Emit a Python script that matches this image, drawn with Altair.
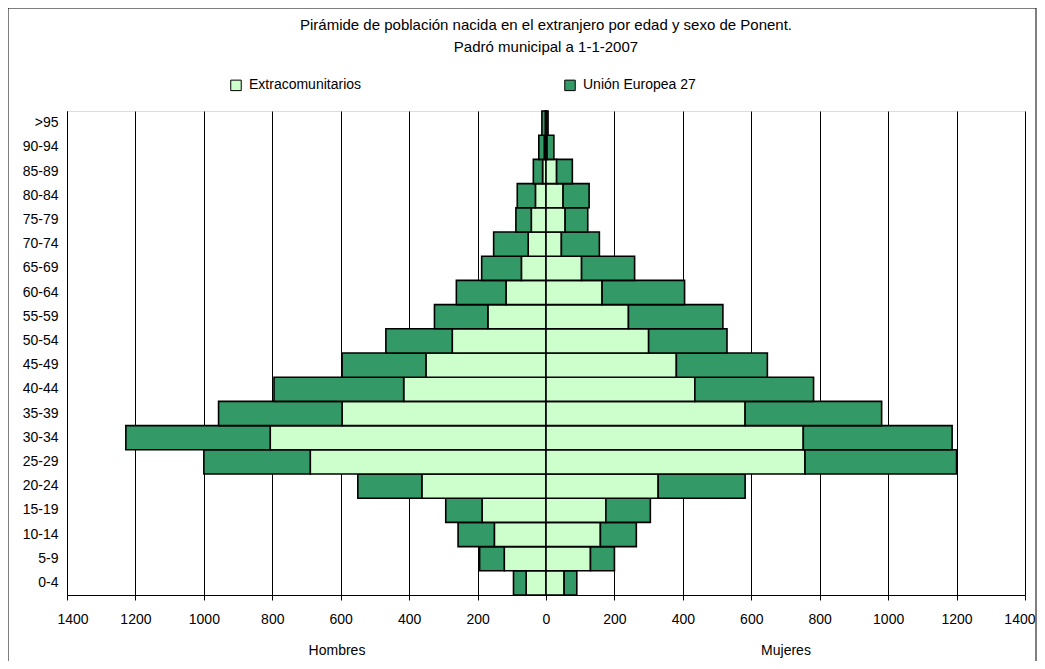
import altair as alt
import pandas as pd

ages = ["0-4", "5-9", "10-14", "15-19", "20-24", "25-29", "30-34", "35-39", "40-44",
        "45-49", "50-54", "55-59", "60-64", "65-69", "70-74", "75-79", "80-84",
        "85-89", "90-94", ">95"]
series = ["Extracomunitarios", "Unión Europea 27"]

hombres_extra = [58, 122, 151, 187, 363, 689, 806, 596, 416, 351, 274, 170, 117, 72, 52, 43, 31, 10, 5, 2]
hombres_ue = [37, 72, 106, 106, 187, 311, 422, 361, 379, 245, 194, 156, 145, 116, 101, 45, 53, 27, 16, 10]
mujeres_extra = [53, 130, 159, 175, 328, 757, 752, 582, 435, 381, 300, 241, 164, 104, 45, 56, 50, 31, 3, 1]
mujeres_ue = [37, 70, 105, 130, 254, 443, 435, 399, 347, 266, 229, 276, 241, 155, 111, 66, 76, 46, 20, 5]

x_ticks = list(range(-1400, 1401, 200))
title_lines = ["Pirámide de población nacida en el extranjero por edad y sexo de Ponent.",
               "Padró municipal a 1-1-2007"]
axis_titles = ["Hombres", "Mujeres"]

rows = []
for i, age in enumerate(ages):
    he, hu = hombres_extra[i], hombres_ue[i]
    me, mu = mujeres_extra[i], mujeres_ue[i]
    rows.append({"edad": age, "serie": series[0], "x0": 0, "x1": -he})
    rows.append({"edad": age, "serie": series[1], "x0": -he, "x1": -(he + hu)})
    rows.append({"edad": age, "serie": series[0], "x0": 0, "x1": me})
    rows.append({"edad": age, "serie": series[1], "x0": me, "x1": me + mu})
df = pd.DataFrame(rows)

W, H = 958, 484
FONT = "Liberation Sans"

bars = alt.Chart(df).mark_bar(stroke="black", strokeWidth=1.6).encode(
    y=alt.Y("edad:N", sort=list(reversed(ages)),
            scale=alt.Scale(paddingInner=0, paddingOuter=0),
            axis=alt.Axis(title=None, ticks=False, labelPadding=9, domainColor="black",
                          labelFont=FONT, labelFontSize=14, labelColor="black")),
    x=alt.X("x0:Q", scale=alt.Scale(domain=[-1400, 1400], nice=False),
            axis=alt.Axis(values=x_ticks, title=None, labelExpr="abs(datum.value)",
                          grid=True, gridColor="black", gridWidth=1, gridOpacity=1,
                          tickColor="black", tickSize=5, domainColor="black",
                          labelFont=FONT, labelFontSize=14, labelColor="black",
                          labelPadding=12, labelFlush=True, labelFlushOffset=10,
                          labelOverlap=False)),
    x2="x1:Q",
    color=alt.Color("serie:N", scale=alt.Scale(domain=series, range=["#CCFFCC", "#339966"]),
                    legend=alt.Legend(title=None, orient="none", legendX=162, legendY=-33,
                                      direction="horizontal", symbolType="square",
                                      symbolSize=110, symbolStrokeColor="black",
                                      symbolStrokeWidth=1, symbolOpacity=1,
                                      columnPadding=200, labelFont=FONT,
                                      labelFontSize=14, labelColor="black", labelOffset=6)),
)

tdf = pd.DataFrame({"t": axis_titles})
hombres_t = alt.Chart(tdf).transform_filter(alt.datum.t == axis_titles[0]).mark_text(
    font=FONT, fontSize=14, color="black").encode(
    text="t:N", x=alt.value(270), y=alt.value(540))
mujeres_t = alt.Chart(tdf).transform_filter(alt.datum.t == axis_titles[1]).mark_text(
    font=FONT, fontSize=14, color="black").encode(
    text="t:N", x=alt.value(719), y=alt.value(540))

ttl = pd.DataFrame({"line": title_lines})
title1 = alt.Chart(ttl).transform_filter(alt.datum.line == title_lines[0]).mark_text(
    font=FONT, fontSize=15, color="black").encode(
    text="line:N", x=alt.value(W / 2), y=alt.value(-86))
title2 = alt.Chart(ttl).transform_filter(alt.datum.line == title_lines[1]).mark_text(
    font=FONT, fontSize=15, color="black").encode(
    text="line:N", x=alt.value(W / 2), y=alt.value(-64))

frame = alt.Chart(pd.DataFrame({"f": [0]})).mark_rect(
    fill=None, stroke="black", strokeWidth=1).encode(
    x=alt.value(-59), x2=alt.value(W + 11), y=alt.value(-103), y2=alt.value(H + 200))

chart = alt.layer(bars, hombres_t, mujeres_t, title1, title2, frame).properties(
    width=W, height=H,
    autosize=alt.AutoSizeParams(type="none"),
    padding={"left": 59, "top": 103, "right": 12, "bottom": 66},
).configure_view(stroke="black", strokeWidth=1).configure(background="white")

chart.save("out.html", embed_options={"renderer": "svg", "actions": False})
